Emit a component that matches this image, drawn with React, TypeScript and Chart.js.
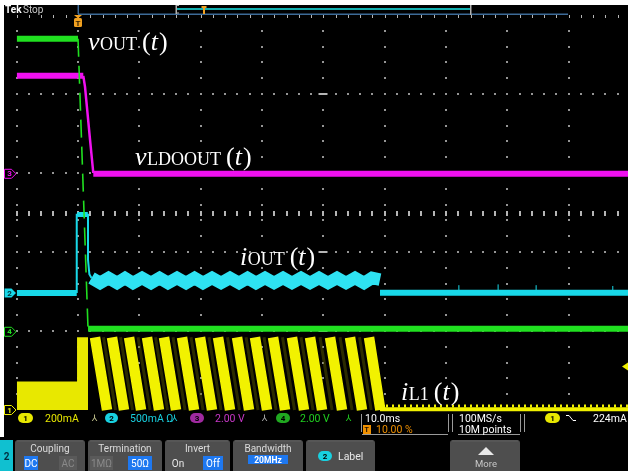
import React, { useEffect, useRef } from "react";
import { Chart, registerables } from "chart.js";

Chart.register(...registerables);

const W = 628;
const H = 471;

// Horizontal axis: time in ms (10.0 ms/div, trigger at 10 %)
const timeMin = -10;
const timeMax = 89.68;
const timePerDiv = 10;
const horizDivs = 10;
// Vertical axis: graticule divisions (0 = bottom line, 5 = top line)
const vertMin = 0;
const vertMax = 5;

// Channel 4 (green) – v_OUT(t)
const vOutHighT = [-10, 0];
const vOutHighV = [4.7, 4.7];
const vOutEdgeT = [0, 1.63];
const vOutEdgeV = [4.7, 1.03];
const vOutLowT = [1.63, 89.7];
const vOutLowV = [1.03, 1.03];

// Channel 3 (magenta) – v_LDOOUT(t)
const vLdoHighT = [-10, 0.86];
const vLdoHighV = [4.23, 4.23];
const vLdoEdgeT = [0.86, 1.14, 1.96, 2.49];
const vLdoEdgeV = [4.23, 4.09, 3.42, 3.0];
const vLdoLowT = [2.49, 89.7];
const vLdoLowV = [2.99, 2.99];

// Channel 2 (cyan) – i_OUT(t)
const iOutPreT = [-10, -0.21];
const iOutPreV = [1.48, 1.48];
const iOutPulseT = [-0.21, -0.21, 1.63, 1.63, 1.85, 2.2];
const iOutPulseV = [1.48, 2.47, 2.47, 1.9, 1.72, 1.671];
const iOutCapT = [-0.12, 1.6];
const iOutCapV = [2.475, 2.475];
const iOutRippleT = [
  2.2, 3.59, 4.97, 6.36, 7.66, 8.97, 10.44, 11.9, 13.29, 14.67, 16.14, 17.61,
  19.0, 20.38, 21.85, 23.32, 24.78, 26.25, 27.64, 29.02, 30.49, 31.96, 33.43,
  34.89, 36.36, 37.83, 39.3, 40.76, 42.23, 43.7, 45.17, 46.63, 47.94, 49.24,
];
const iOutRippleV = [
  1.671, 1.608, 1.671, 1.608, 1.671, 1.608, 1.671, 1.608, 1.671, 1.608, 1.671,
  1.608, 1.671, 1.608, 1.671, 1.608, 1.671, 1.608, 1.671, 1.608, 1.671, 1.608,
  1.671, 1.608, 1.671, 1.608, 1.671, 1.608, 1.671, 1.608, 1.671, 1.608, 1.671,
  1.65,
];
const iOutTailT = [49.24, 89.7];
const iOutTailV = [1.485, 1.485];
const iOutSpikeT = [62.1, 68.5, 74.7, 87.2];
const iOutSpikeV = [1.58, 1.59, 1.58, 1.57];

// Channel 1 (yellow) – i_L1(t)
const iL1EnvT = [-10, -0.16, -0.16, 1.63, 1.63];
const iL1EnvV = [0.36, 0.36, 0.92, 0.92, 0];
const iL1StripeTopT = [
  2.77, 5.54, 8.32, 11.25, 14.02, 16.96, 19.89, 22.83, 25.93, 28.86, 31.8,
  34.89, 37.83, 41.09, 44.35, 47.45,
];
const iL1StripeBotT = [
  4.73, 7.5, 10.28, 13.21, 15.98, 18.92, 21.85, 24.79, 27.89, 30.82, 33.76,
  36.85, 39.79, 43.05, 46.31, 49.3,
];
const iL1StripeTopV = 0.92;
const iL1StripeBotV = 0;
const iL1TailT = [49.24, 89.7];
const iL1TailV = [0.01, 0.01];

// Channel reference markers (divisions) and trigger
const chNames = ["1", "2", "3", "4"];
const chColors = ["#f0f000", "#18d8e8", "#f010f0", "#20e020"];
const chLevels = [0, 1.48, 2.99, 0.99];
const chFilled = [false, true, false, false];
const triggerTime = 0;
const triggerLevel = 0.55;

// Waveform labels
const labelMain = ["v", "v", "i", "i"];
const labelSub = ["OUT", "LDOOUT", "OUT", "L1"];
const labelT = [1.63, 9.29, 26.41, 52.67];
const labelV = [4.557, 3.101, 1.835, 0.127];

const pts = (t: number[], v: (number | null)[]) =>
  t.map((x, i) => ({ x, y: v[i] }));

function rr(ctx: any, x: number, y: number, w: number, h: number, r: number) {
  ctx.beginPath();
  ctx.moveTo(x + r, y);
  ctx.lineTo(x + w - r, y);
  ctx.arcTo(x + w, y, x + w, y + r, r);
  ctx.lineTo(x + w, y + h - r);
  ctx.arcTo(x + w, y + h, x + w - r, y + h, r);
  ctx.lineTo(x + r, y + h);
  ctx.arcTo(x, y + h, x, y + h - r, r);
  ctx.lineTo(x, y + r);
  ctx.arcTo(x, y, x + r, y, r);
  ctx.closePath();
}

const SANS = 'Roboto, "DejaVu Sans", sans-serif';
const SERIF = '"Liberation Serif", "DejaVu Serif", serif';

function badge(ctx: any, x: number, y: number, w: number, h: number, color: string, txt: string, txtColor = "#000") {
  ctx.fillStyle = color;
  rr(ctx, x, y, w, h, h / 2);
  ctx.fill();
  ctx.fillStyle = txtColor;
  ctx.font = `bold 8px ${SANS}`;
  ctx.textAlign = "center";
  ctx.textBaseline = "middle";
  ctx.fillText(txt, x + w / 2, y + h / 2 + 0.5);
  ctx.textAlign = "left";
  ctx.textBaseline = "alphabetic";
}

function text(ctx: any, s: string, x: number, y: number, color: string, size = 10.5, align = "left", weight = "") {
  ctx.fillStyle = color;
  ctx.font = `${weight} ${size}px ${SANS}`;
  ctx.textAlign = align;
  ctx.textBaseline = "alphabetic";
  ctx.fillText(s, x, y);
  ctx.textAlign = "left";
}

function mathLabel(ctx: any, x: number, y: number, main: string, sub: string) {
  ctx.fillStyle = "#ffffff";
  ctx.textAlign = "left";
  ctx.textBaseline = "alphabetic";
  ctx.font = `italic 26px ${SERIF}`;
  ctx.fillText(main, x, y);
  x += ctx.measureText(main).width + 0.5;
  ctx.font = `18px ${SERIF}`;
  ctx.fillText(sub, x, y);
  x += ctx.measureText(sub).width + 5;
  ctx.font = `26px ${SERIF}`;
  ctx.fillText("(", x, y);
  x += ctx.measureText("(").width;
  ctx.font = `italic 26px ${SERIF}`;
  ctx.fillText("t", x, y);
  x += ctx.measureText("t").width + 1;
  ctx.font = `26px ${SERIF}`;
  ctx.fillText(")", x, y);
}

const scopePlugin = {
  id: "scope",
  beforeDraw(chart: any) {
    const { ctx, chartArea: ca, scales } = chart;
    const xs = scales.x;
    const ys = scales.y;
    ctx.save();
    ctx.fillStyle = "#ffffff";
    ctx.fillRect(0, 0, W, H);
    ctx.fillStyle = "#000000";
    ctx.fillRect(4, 5, W - 4, 432);
    ctx.fillRect(0, 437, W, H - 437);

    // graticule
    const cols: number[] = [];
    for (let k = 0; k <= horizDivs; k++) cols.push(xs.getPixelForValue(timeMin + k * timePerDiv));
    const minorX: number[] = [];
    for (let m = 0; m <= horizDivs * 5; m++) {
      const px = xs.getPixelForValue(timeMin + (m * timePerDiv) / 5);
      if (px <= ca.right + 0.5) minorX.push(px);
    }
    ctx.fillStyle = "#959595";
    for (let j = vertMin + 1; j < vertMax; j++) {
      const py = Math.round(ys.getPixelForValue(j));
      for (const px of minorX) ctx.fillRect(Math.round(px) - 1, py - 1, 2, 2);
    }
    for (const c of cols) {
      if (c > ca.right + 0.5) continue;
      for (let n = 1; n < (vertMax - vertMin) * 5; n++) {
        const py = Math.round(ys.getPixelForValue(vertMin + n * 0.2));
        ctx.fillRect(Math.round(c) - 1, py - 1, 2, 2);
      }
    }
    // top border ticks
    ctx.fillStyle = "#b5b5b5";
    for (const px of minorX) ctx.fillRect(Math.round(px), Math.round(ca.top), 1, 3);
    // centre horizontal line ticks
    const cy = Math.round(ys.getPixelForValue((vertMin + vertMax) / 2));
    for (const px of minorX) ctx.fillRect(Math.round(px) - 1, cy - 2, 2, 5);
    // centre vertical line dashes
    const cx = cols[horizDivs / 2];
    for (let j = vertMin + 1; j < vertMax; j++) {
      const py = Math.round(ys.getPixelForValue(j));
      ctx.fillRect(Math.round(cx) - 4.5, py - 1, 9, 2);
    }

    // record view bar
    const tx = xs.getPixelForValue(triggerTime);
    ctx.fillStyle = "#3d6b98";
    ctx.fillRect(tx, 13.5, 490, 1.5);
    ctx.fillRect(tx - 0.5, 5, 1.5, 9);
    ctx.fillStyle = "#14b0b0";
    ctx.fillRect(176, 8, 295, 2);
    ctx.fillStyle = "#b0b0b0";
    ctx.fillRect(175.5, 5, 1.5, 9);
    ctx.fillRect(176, 5, 3, 1);
    ctx.fillRect(176, 12.5, 3, 1);
    ctx.fillRect(470, 5, 1.5, 10);
    ctx.fillStyle = "#f0a020";
    ctx.fillRect(201.5, 6, 5, 2);
    ctx.fillRect(203, 6, 2, 8);
    // Tek Stop
    ctx.fillStyle = "#ffffff";
    ctx.font = `bold 10px ${SANS}`;
    ctx.fillText("Tek", 5, 13);
    ctx.fillStyle = "#c8c8c8";
    ctx.font = `10px ${SANS}`;
    ctx.fillText("Stop", 23, 13);
    ctx.restore();
  },
  afterDraw(chart: any) {
    const { ctx, scales } = chart;
    const xs = scales.x;
    const ys = scales.y;
    ctx.save();

    // trigger position marker
    const tx = Math.round(xs.getPixelForValue(triggerTime));
    ctx.fillStyle = "#f0a020";
    ctx.beginPath();
    ctx.moveTo(tx - 4, 15);
    ctx.lineTo(tx + 4, 15);
    ctx.lineTo(tx, 18.5);
    ctx.closePath();
    ctx.fill();
    rr(ctx, tx - 4, 18, 8, 9, 1.5);
    ctx.fill();
    ctx.fillStyle = "#2a1a00";
    ctx.font = `bold 8px ${SANS}`;
    ctx.textAlign = "center";
    ctx.fillText("T", tx, 26);
    ctx.textAlign = "left";

    // trigger level marker (right)
    const ty = ys.getPixelForValue(triggerLevel);
    ctx.fillStyle = chColors[0];
    ctx.beginPath();
    ctx.moveTo(622, ty);
    ctx.lineTo(628, ty - 4);
    ctx.lineTo(628, ty + 4);
    ctx.closePath();
    ctx.fill();

    // channel reference markers
    for (let i = 0; i < chNames.length; i++) {
      const py = ys.getPixelForValue(chLevels[i]);
      ctx.beginPath();
      ctx.moveTo(4.5, py - 4.5);
      ctx.lineTo(11.5, py - 4.5);
      ctx.lineTo(16, py);
      ctx.lineTo(11.5, py + 4.5);
      ctx.lineTo(4.5, py + 4.5);
      ctx.closePath();
      if (chFilled[i]) {
        ctx.fillStyle = chColors[i];
        ctx.fill();
      } else {
        ctx.fillStyle = "#000";
        ctx.fill();
        ctx.strokeStyle = chColors[i];
        ctx.lineWidth = 1;
        ctx.stroke();
      }
      ctx.fillStyle = chFilled[i] ? "#003038" : chColors[i];
      ctx.font = `bold 8px ${SANS}`;
      ctx.textAlign = "center";
      ctx.textBaseline = "middle";
      ctx.fillText(chNames[i], 9.5, py + 0.5);
      ctx.textAlign = "left";
      ctx.textBaseline = "alphabetic";
    }

    // waveform labels
    for (let i = 0; i < labelMain.length; i++) {
      mathLabel(ctx, xs.getPixelForValue(labelT[i]), ys.getPixelForValue(labelV[i]), labelMain[i], labelSub[i]);
    }

    // status row
    badge(ctx, 18, 413, 15, 10, "#e8e800", "1");
    text(ctx, "200mA", 45, 422, "#e6e600");
    text(ctx, "\u2144", 92, 421, "#c8c890", 9);
    badge(ctx, 105, 413, 13, 10, "#18d0e0", "2");
    text(ctx, "500mA \u03A9", 130, 422, "#18d0e0");
    text(ctx, "\u2144", 172, 421, "#18d0e0", 9);
    badge(ctx, 190, 413, 14, 10, "#a02aa0", "3");
    text(ctx, "2.00 V", 215, 422, "#c838c8");
    text(ctx, "\u2144", 262, 421, "#b0b0b0", 9);
    badge(ctx, 276, 413, 14, 10, "#20a820", "4");
    text(ctx, "2.00 V", 300, 422, "#20d020");
    text(ctx, "\u2144", 346, 421, "#20d020", 9);
    ctx.fillStyle = "#9a9a9a";
    ctx.fillRect(361, 414, 1, 18);
    ctx.fillRect(448, 414, 1, 18);
    ctx.fillRect(452, 414, 1, 18);
    ctx.fillRect(520, 414, 1, 18);
    ctx.fillRect(524, 414, 1, 18);
    ctx.fillRect(362, 434, 86, 1);
    ctx.fillRect(458, 434, 62, 1);
    text(ctx, "10.0ms", 365, 422, "#ffffff");
    ctx.fillStyle = "#f09000";
    ctx.fillRect(363, 425, 8, 9);
    ctx.fillStyle = "#201000";
    ctx.font = `bold 7px ${SANS}`;
    ctx.fillText("T", 364.5, 432);
    text(ctx, "10.00 %", 376, 433, "#f09000");
    text(ctx, "100MS/s", 459, 422, "#ffffff");
    text(ctx, "10M points", 459, 433, "#ffffff");
    badge(ctx, 545, 413, 15, 10, "#e8e800", "1");
    ctx.strokeStyle = "#ffffff";
    ctx.lineWidth = 1;
    ctx.beginPath();
    ctx.moveTo(566, 415.5);
    ctx.lineTo(569, 415.5);
    ctx.lineTo(573, 420.5);
    ctx.lineTo(576, 420.5);
    ctx.stroke();
    text(ctx, "224mA", 593, 422, "#ffffff");

    // softkey buttons
    ctx.fillStyle = "#10c0d0";
    ctx.fillRect(0, 440, 13, 31);
    text(ctx, "2", 6.5, 460, "#003040", 10, "center", "bold");
    const btns = [
      [15, 85, "Coupling"],
      [88, 162, "Termination"],
      [165, 230, "Invert"],
      [233, 303, "Bandwidth"],
      [306, 375, ""],
      [450, 520, ""],
    ];
    for (const b of btns) {
      const x0 = b[0] as number;
      const x1 = b[1] as number;
      ctx.fillStyle = "#4e4e4e";
      rr(ctx, x0, 440, x1 - x0, 34, 3);
      ctx.fill();
      ctx.fillStyle = "#5e5e5e";
      ctx.fillRect(x0 + 2, 440.5, x1 - x0 - 4, 1);
      if (b[2]) text(ctx, b[2] as string, (x0 + x1) / 2, 452, "#dcdcdc", 10, "center");
    }
    const opt = (x: number, w: number, s: string, on: boolean, y = 456, h = 14) => {
      ctx.fillStyle = on ? "#1e78f0" : "#5a5a5a";
      ctx.fillRect(x, y, w, h);
      text(ctx, s, x + w / 2, y + h - 3.5, on ? "#ffffff" : "#8a8a8a", 10, "center");
    };
    opt(24, 14, "DC", true);
    opt(59, 18, "AC", false);
    opt(90, 23, "1M\u03A9", false);
    opt(128, 24, "50\u03A9", true);
    text(ctx, "On", 178, 467, "#e8e8e8", 10, "center");
    opt(203, 20, "Off", true);
    ctx.fillStyle = "#1e78f0";
    ctx.fillRect(248, 455, 40, 9);
    text(ctx, "20MHz", 268, 462.5, "#ffffff", 8.5, "center", "bold");
    badge(ctx, 318, 451, 14, 10, "#18d0e0", "2");
    text(ctx, "Label", 338, 460, "#e8e8e8", 10.5);
    ctx.fillStyle = "#e8e8e8";
    ctx.beginPath();
    ctx.moveTo(478, 455);
    ctx.lineTo(494, 455);
    ctx.lineTo(486, 447);
    ctx.closePath();
    ctx.fill();
    text(ctx, "More", 486, 467, "#c8c8c8", 9.5, "center");
    ctx.restore();
  },
};

export default function App() {
  const ref = useRef<HTMLCanvasElement>(null);
  useEffect(() => {
    const line = (data: any[], color: string, width: number, extra: any = {}) => ({
      data,
      borderColor: color,
      backgroundColor: color,
      borderWidth: width,
      pointRadius: 0,
      tension: 0,
      fill: false,
      spanGaps: false,
      borderCapStyle: "butt",
      borderJoinStyle: "miter",
      ...extra,
    });

    const stripes: any[] = [];
    const shades: any[] = [];
    for (let i = 0; i < iL1StripeTopT.length; i++) {
      stripes.push({ x: iL1StripeTopT[i], y: iL1StripeTopV });
      stripes.push({ x: iL1StripeBotT[i], y: iL1StripeBotV });
      stripes.push({ x: iL1StripeBotT[i], y: null });
      if (i + 1 < iL1StripeTopT.length) {
        shades.push({ x: (iL1StripeTopT[i] + iL1StripeTopT[i + 1]) / 2, y: iL1StripeTopV });
        shades.push({ x: (iL1StripeBotT[i] + iL1StripeBotT[i + 1]) / 2, y: iL1StripeBotV });
        shades.push({ x: (iL1StripeBotT[i] + iL1StripeBotT[i + 1]) / 2, y: null });
      }
    }
    const spikes: any[] = [];
    for (let i = 0; i < iOutSpikeT.length; i++) {
      spikes.push({ x: iOutSpikeT[i], y: iOutTailV[0] });
      spikes.push({ x: iOutSpikeT[i], y: iOutSpikeV[i] });
      spikes.push({ x: iOutSpikeT[i], y: null });
    }

    const green = chColors[3];
    const cyan = chColors[1];
    const magenta = chColors[2];
    const yellow = chColors[0];

    const datasets = [
      line(pts(vOutEdgeT, vOutEdgeV), green, 1.6, { borderDash: [18, 9] }),
      line(pts(vOutHighT, vOutHighV), green, 6),
      line(pts(vOutLowT, vOutLowV), green, 6),
      line(pts(vLdoEdgeT, vLdoEdgeV), magenta, 2.5),
      line(pts(vLdoHighT, vLdoHighV), magenta, 6),
      line(pts(vLdoLowT, vLdoLowV), magenta, 6),
      line(pts(iOutCapT, iOutCapV), cyan, 5),
      line(pts(iOutPulseT, iOutPulseV), cyan, 2),
      line(pts(iOutPreT, iOutPreV), cyan, 6),
      line(pts(iOutRippleT, iOutRippleV), "#2ee2f2", 12.5),
      line(pts(iOutTailT, iOutTailV), cyan, 6),
      line(spikes, cyan, 1),
      line(stripes, "#f2f200", 10.5, { clip: 8 }),
      line(shades, "rgba(95,95,0,0.45)", 3, { clip: 8 }),
      line(pts(iL1TailT, iL1TailV), yellow, 4, { clip: 8 }),
      line(pts(iL1TailT, [0.05, 0.05]), yellow, 3, { clip: 8, borderDash: [2, 4] }),
      line(pts(iL1EnvT, iL1EnvV), "#e8e800", 0, { fill: { value: 0 }, backgroundColor: "#e8e800", clip: 8 }),
    ];

    const chart = new Chart(ref.current as HTMLCanvasElement, {
      type: "line",
      data: { datasets: datasets as any },
      options: {
        animation: false,
        responsive: false,
        maintainAspectRatio: false,
        events: [],
        layout: { padding: { left: 16.7, top: 15, right: 0, bottom: 61 } },
        scales: {
          x: { type: "linear", min: timeMin, max: timeMax, display: false },
          y: { type: "linear", min: vertMin, max: vertMax, display: false },
        },
        plugins: { legend: { display: false }, tooltip: { enabled: false } },
      },
      plugins: [scopePlugin as any],
    });
    return () => chart.destroy();
  }, []);

  return (
    <div style={{ position: "fixed", left: 0, top: 0, width: W, height: H, background: "#fff" }}>
      <canvas ref={ref} width={W} height={H} style={{ display: "block", width: W, height: H }} />
    </div>
  );
}
